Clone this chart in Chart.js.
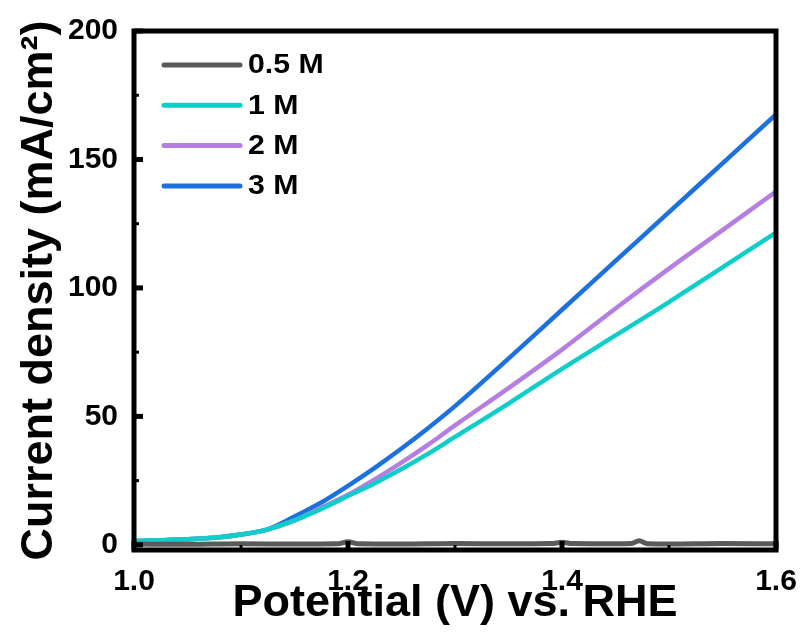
<!DOCTYPE html>
<html lang="en">
<head>
    <meta charset="UTF-8">
    <title>LSV curves</title>
    <script src="https://cdn.jsdelivr.net/npm/chart.js@4.4.1/dist/chart.umd.min.js"></script>
    <style>
        body {
            margin: 0;
            padding: 0;
            background: #fff;
        }
        .chart-box {
            width: 803px;
            height: 635px;
        }
    </style>
</head>
<body>
    <div class="chart-box">
        <canvas id="lsvChart" width="803" height="635"></canvas>
    </div>

    <script>
        // data
        const labels = ['0.5 M', '1 M', '2 M', '3 M'];
        const colors = ['#5a5a5a', '#0fcdc8', '#b57fe2', '#1c71de'];

        const potential = [1.0, 1.05, 1.08, 1.10, 1.125, 1.15, 1.175, 1.2, 1.225, 1.25, 1.275, 1.3, 1.35, 1.4, 1.45, 1.5, 1.55, 1.6];
        const j1M = [1.5, 2.2, 3, 4, 6, 9.5, 14, 19, 24, 29.5, 35.5, 42, 55, 68.5, 81.5, 94.5, 108, 121.5];
        const j2M = [1.5, 2.2, 3, 4, 6, 9.5, 14.5, 19.5, 25.5, 32, 39, 46.5, 61, 76, 92, 107.5, 122.5, 137.5];
        const j3M = [1.5, 2.2, 3, 4, 6, 11, 16.5, 23, 30, 37.5, 45.5, 54, 72.5, 91.5, 110.5, 129.5, 148.5, 167.5];

        const potentialLow = [1.0, 1.05, 1.1, 1.15, 1.19, 1.2, 1.21, 1.25, 1.3, 1.35, 1.39, 1.4, 1.41, 1.45, 1.465, 1.472, 1.48, 1.5, 1.55, 1.6];
        const j05M = [0.3, 0.2, 0.4, 0.3, 0.4, 1.2, 0.4, 0.3, 0.5, 0.4, 0.5, 1.0, 0.5, 0.4, 0.5, 1.6, 0.4, 0.3, 0.5, 0.4];

        const xTicks = [1.0, 1.2, 1.4, 1.6];
        const xMinor = [1.1, 1.3, 1.5];
        const yTicks = [0, 50, 100, 150, 200];
        const yMinor = [25, 75, 125, 175];

        const toPoints = (xs, ys) => xs.map((x, i) => ({ x: x, y: ys[i] }));
        const series = [toPoints(potentialLow, j05M), toPoints(potential, j1M), toPoints(potential, j2M), toPoints(potential, j3M)];

        const fontFamily = "'Liberation Sans', Arial, sans-serif";

        // black frame and inward ticks
        const framePlugin = {
            id: 'frame',
            afterDatasetsDraw(chart) {
                const { ctx, chartArea: a, scales } = chart;
                ctx.save();
                ctx.strokeStyle = '#000';
                ctx.lineCap = 'butt';
                ctx.lineWidth = 5;
                yTicks.forEach(v => {
                    const y = scales.y.getPixelForValue(v);
                    ctx.beginPath(); ctx.moveTo(a.left, y); ctx.lineTo(a.left + 9, y); ctx.stroke();
                });
                xTicks.forEach(v => {
                    const x = scales.x.getPixelForValue(v);
                    ctx.beginPath(); ctx.moveTo(x, a.bottom); ctx.lineTo(x, a.bottom - 9); ctx.stroke();
                });
                ctx.lineWidth = 3;
                yMinor.forEach(v => {
                    const y = scales.y.getPixelForValue(v);
                    ctx.beginPath(); ctx.moveTo(a.left, y); ctx.lineTo(a.left + 5, y); ctx.stroke();
                });
                xMinor.forEach(v => {
                    const x = scales.x.getPixelForValue(v);
                    ctx.beginPath(); ctx.moveTo(x, a.bottom); ctx.lineTo(x, a.bottom - 5); ctx.stroke();
                });
                ctx.lineWidth = 5;
                ctx.strokeRect(a.left, a.top, a.right - a.left, a.bottom - a.top);
                ctx.restore();
            }
        };

        // legend in the upper left corner of the plot
        const legendPlugin = {
            id: 'innerLegend',
            afterDraw(chart) {
                const { ctx, chartArea: a } = chart;
                ctx.save();
                ctx.textBaseline = 'middle';
                ctx.lineCap = 'round';
                ctx.lineWidth = 5;
                chart.data.datasets.forEach((ds, i) => {
                    const y = a.top + 34 + i * 40.3;
                    ctx.strokeStyle = ds.borderColor;
                    ctx.beginPath();
                    ctx.moveTo(a.left + 30, y);
                    ctx.lineTo(a.left + 106, y);
                    ctx.stroke();
                    ctx.save();
                    ctx.translate(a.left + 114, y + 1);
                    ctx.scale(1.12, 1);
                    ctx.font = 'bold 27px ' + fontFamily;
                    ctx.fillStyle = '#000';
                    ctx.fillText(ds.label, 0, 0);
                    ctx.restore();
                });
                ctx.restore();
            }
        };

        const ctx = document.getElementById('lsvChart').getContext('2d');
        new Chart(ctx, {
            type: 'line',
            data: {
                datasets: series.map((pts, i) => ({
                    label: labels[i],
                    data: pts,
                    borderColor: colors[i],
                    backgroundColor: colors[i],
                    borderWidth: i === 0 ? 5 : 4.5,
                    pointRadius: 0,
                    cubicInterpolationMode: 'monotone',
                    fill: false
                }))
            },
            options: {
                responsive: false,
                animation: false,
                events: [],
                layout: { padding: { top: 31, right: 27, left: 0, bottom: 0 } },
                plugins: {
                    legend: { display: false },
                    tooltip: { enabled: false }
                },
                scales: {
                    x: {
                        type: 'linear',
                        min: 1.0,
                        max: 1.6,
                        afterBuildTicks: s => { s.ticks = xTicks.map(v => ({ value: v })); },
                        afterFit: s => {
                            s.height = 85;
                            s.paddingLeft = 0;
                            s.paddingRight = 0;
                        },
                        grid: { display: false, drawTicks: false },
                        border: { display: false },
                        ticks: {
                            padding: 14,
                            color: '#000',
                            font: { family: fontFamily, size: 30, weight: 'bold' },
                            callback: v => v.toFixed(1)
                        },
                        title: {
                            display: true,
                            text: 'Potential (V) vs. RHE',
                            color: '#000',
                            font: { family: fontFamily, size: 45, weight: 'bold' },
                            padding: { top: 0, bottom: 4 }
                        }
                    },
                    y: {
                        type: 'linear',
                        min: -2,
                        max: 200,
                        afterBuildTicks: s => { s.ticks = yTicks.map(v => ({ value: v })); },
                        afterFit: s => {
                            s.width = 134;
                            s.paddingTop = 0;
                            s.paddingBottom = 0;
                        },
                        grid: { display: false, drawTicks: false },
                        border: { display: false },
                        ticks: {
                            padding: 16,
                            color: '#000',
                            font: { family: fontFamily, size: 30, weight: 'bold' }
                        },
                        title: {
                            display: true,
                            text: 'Current density (mA/cm²)',
                            color: '#000',
                            font: { family: fontFamily, size: 45, weight: 'bold' },
                            padding: { top: 13, bottom: 0 }
                        }
                    }
                }
            },
            plugins: [framePlugin, legendPlugin]
        });
    </script>
</body>
</html>
